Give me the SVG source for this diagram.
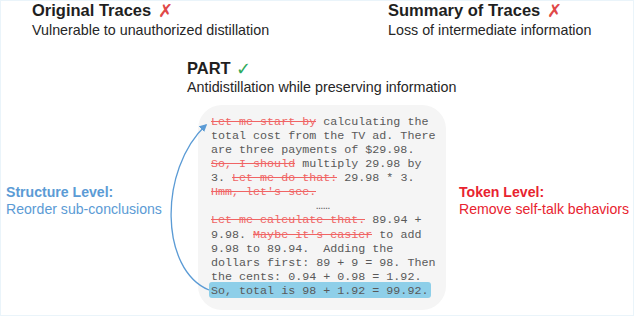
<svg xmlns="http://www.w3.org/2000/svg" width="634" height="316" viewBox="0 0 634 316">
<style>
.h{font-family:"Liberation Sans",Arial,sans-serif;font-weight:bold;font-size:16.5px;fill:#1f1f1f}
.s{font-family:"Liberation Sans",Arial,sans-serif;font-size:14.3px;fill:#262626}
.m{font-family:"Liberation Mono","Courier New",monospace;font-size:11.7px;fill:#595959}
.r{fill:#f06464}
.st{stroke:#f06464;stroke-width:1.2}
.lb{font-family:"Liberation Sans",Arial,sans-serif;font-size:14.1px}
.mk{font-family:"DejaVu Sans",sans-serif;font-size:18px}
</style>
<defs>
<marker id="ah" viewBox="0 0 10 10" refX="8" refY="5" markerWidth="6" markerHeight="6" orient="auto">
<path d="M0,0 L10,5 L0,10 z" fill="#5b9bd5"/>
</marker>
</defs>
<rect x="0.5" y="0.5" width="633" height="315" fill="#ffffff" stroke="#eaf4fa" stroke-width="1"/>
<g id="original">
<text class="h" x="32" y="16">Original Traces</text>
<text class="mk" x="158" y="17" fill="#e04848">✗</text>
<text class="s" x="32" y="35">Vulnerable to unauthorized distillation</text>
</g>
<g id="summary">
<text class="h" x="388" y="16">Summary of Traces</text>
<text class="mk" x="547" y="17" fill="#e04848">✗</text>
<text class="s" x="388" y="35">Loss of intermediate information</text>
</g>
<g id="part">
<text class="h" x="187" y="74">PART</text>
<text class="mk" x="236" y="75" fill="#2eaa5c">✓</text>
<text class="s" x="187" y="92">Antidistillation while preserving information</text>
</g>
<g id="trace">
<rect x="198" y="105" width="248" height="205" rx="24" fill="#f5f5f5"/>
<rect x="209" y="282" width="222" height="16" rx="3" fill="#8ecfe9"/>
<text class="m" x="211" y="125"><tspan class="r">Let me start by</tspan> calculating the</text>
<line class="st" x1="211" y1="121.5" x2="316" y2="121.5"/>
<text class="m" x="211" y="139">total cost from the TV ad. There</text>
<text class="m" x="211" y="153">are three payments of $29.98.</text>
<text class="m" x="211" y="167"><tspan class="r">So, I should</tspan> multiply 29.98 by</text>
<line class="st" x1="211" y1="163.5" x2="295" y2="163.5"/>
<text class="m" x="211" y="181">3. <tspan class="r">Let me do that:</tspan> 29.98 * 3.</text>
<line class="st" x1="232" y1="177.5" x2="337" y2="177.5"/>
<text class="m" x="211" y="195"><tspan class="r">Hmm, let's see.</tspan></text>
<line class="st" x1="211" y1="191.5" x2="316" y2="191.5"/>
<text class="m" x="316" y="209" font-size="8">……</text>
<text class="m" x="211" y="223"><tspan class="r">Let me calculate that.</tspan> 89.94 +</text>
<line class="st" x1="211" y1="219.5" x2="365" y2="219.5"/>
<text class="m" x="211" y="238">9.98. <tspan class="r">Maybe it's easier</tspan> to add</text>
<line class="st" x1="253" y1="234.5" x2="372" y2="234.5"/>
<text class="m" x="211" y="252" xml:space="preserve">9.98 to 89.94.  Adding the</text>
<text class="m" x="211" y="266">dollars first: 89 + 9 = 98. Then</text>
<text class="m" x="211" y="280">the cents: 0.94 + 0.98 = 1.92.</text>
<text class="m" x="211" y="294">So, total is 98 + 1.92 = 99.92.</text>
</g>
<g id="structure">
<text class="lb" x="6" y="197" font-size="13.5" font-weight="bold" fill="#5b9bd5">Structure Level:</text>
<text class="lb" x="6" y="214" fill="#5b9bd5">Reorder sub-conclusions</text>
</g>
<g id="token">
<text class="lb" x="459" y="197" font-size="13.5" font-weight="bold" fill="#e8232f">Token Level:</text>
<text class="lb" x="459" y="214" fill="#e8232f">Remove self-talk behaviors</text>
</g>
<g id="connectors">
<path d="M209,290 C160,270 158,170 206,125" fill="none" stroke="#5b9bd5" stroke-width="1.3" marker-end="url(#ah)"/>
</g>
</svg>
